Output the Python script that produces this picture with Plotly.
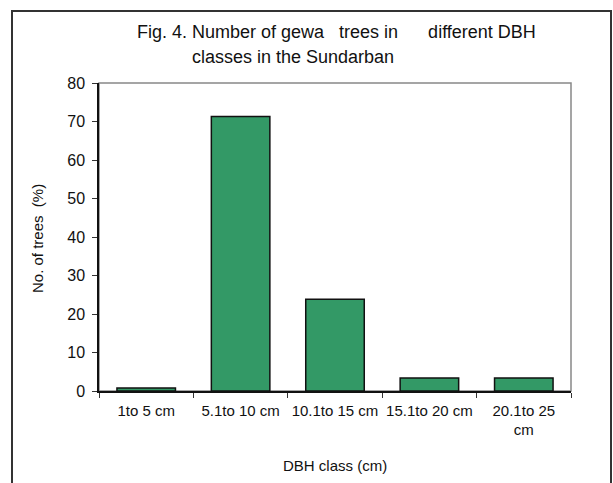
import plotly.graph_objects as go

categories = ["1to 5 cm", "5.1to 10 cm", "10.1to 15 cm", "15.1to 20 cm", "20.1to 25<br>cm"]
percent_trees = [0.8, 71.3, 23.8, 3.4, 3.4]
y_ticks = [0, 10, 20, 30, 40, 50, 60, 70, 80]

W, H = 613, 483
L, R, T, B = 99, 571, 83, 391

def px(x):
    return (x - L) / (R - L)

def py(y):
    return (B - y) / (B - T)

FONT = "Liberation Sans, Arial, sans-serif"

fig = go.Figure(go.Bar(
    x=categories, y=percent_trees,
    marker=dict(color="#339966", line=dict(color="#111111", width=1.5)),
))

fig.update_layout(
    width=W, height=H,
    margin=dict(l=L, r=W - R, t=T, b=H - B),
    paper_bgcolor="white", plot_bgcolor="white",
    bargap=0.38,
    showlegend=False,
    font=dict(family=FONT, size=14, color="#111111"),
    xaxis=dict(
        type="category", tickson="boundaries", ticks="outside", ticklen=5,
        tickcolor="#333333", showline=True, linecolor="#111111", linewidth=1.5,
        showgrid=False, tickfont=dict(size=15), tickangle=0, ticklabelstandoff=5,
    ),
    yaxis=dict(
        range=[0, 80], tickvals=y_ticks, ticks="outside", ticklen=5,
        tickcolor="#333333", showline=True, linecolor="#111111", linewidth=1.5,
        showgrid=False, zeroline=False, tickfont=dict(size=16), ticklabelstandoff=4,
    ),
    shapes=[
        dict(type="rect", xref="paper", yref="paper", x0=0, x1=1, y0=0, y1=1,
             line=dict(color="#888888", width=1.5), layer="below"),
        dict(type="rect", xref="paper", yref="paper", x0=px(12), x1=px(611),
             y0=py(500), y1=py(11), line=dict(color="#333333", width=2)),
    ],
    annotations=[
        dict(text="Fig. 4. Number of gewa   trees in      different DBH", xref="paper", yref="paper",
             x=px(135), y=py(32), xanchor="left", yanchor="middle", showarrow=False,
             font=dict(size=18)),
        dict(text="classes in the Sundarban", xref="paper", yref="paper",
             x=px(190), y=py(57), xanchor="left", yanchor="middle", showarrow=False,
             font=dict(size=18)),
        dict(text="No. of trees  (%)", xref="paper", yref="paper",
             x=px(37), y=py(238), xanchor="center", yanchor="middle", textangle=-90,
             showarrow=False, font=dict(size=15)),
        dict(text="DBH class (cm)", xref="paper", yref="paper",
             x=px(335), y=py(465), xanchor="center", yanchor="middle",
             showarrow=False, font=dict(size=15)),
    ],
)

fig.write_html("out.html")
